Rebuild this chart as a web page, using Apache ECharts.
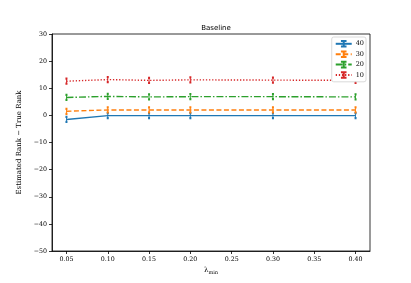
<!DOCTYPE html>
<html><head><meta charset="utf-8">
<script src="https://cdn.jsdelivr.net/npm/echarts@6/dist/echarts.min.js"></script>
<style>html,body{margin:0;padding:0;background:#fff}#c{width:411px;height:283px}</style>
</head><body><div id="c"></div>
<script>
var lambdas = [0.05, 0.10, 0.15, 0.20, 0.30, 0.40];
var xTicks = [0.05, 0.10, 0.15, 0.20, 0.25, 0.30, 0.35, 0.40];
var seriesNames = ['40', '30', '20', '10'];
var vals40 = [-1.5, -0.1, -0.1, -0.1, -0.1, -0.1];
var vals30 = [1.5, 2.0, 2.0, 2.0, 2.0, 2.0];
var vals20 = [6.6, 7.0, 6.8, 6.9, 6.9, 6.8];
var vals10 = [12.6, 13.2, 12.9, 13.1, 13.0, 12.9];
var colors = ['#1f77b4', '#ff7f0e', '#2ca02c', '#d62728'];
var lineTypes = ['solid', [5, 2.5], [7, 2, 1.5, 2], [1.3, 1.8]];
var allVals = [vals40, vals30, vals20, vals10];

var serif = 'DejaVu Serif';
var errSym = 'path://M0,0 L0,10 M-1.5,0 L1.5,0 M-1.5,10 L1.5,10';

var series = seriesNames.map(function (n, i) {
  return {
    name: n, type: 'line',
    data: lambdas.map(function (x, j) { return [x, allVals[i][j]]; }),
    symbol: errSym, symbolSize: [2, 5], showSymbol: true,
    itemStyle: { color: colors[i], borderColor: colors[i], borderWidth: 0.9 },
    lineStyle: { color: colors[i], width: 1.4, type: lineTypes[i] },
    emphasis: { disabled: true }, animation: false
  };
});

var chart = echarts.init(document.getElementById('c'));
chart.setOption({
  animation: false,
  title: { text: 'Baseline', left: 211, top: 20, textAlign: 'center',
    textStyle: { fontFamily: 'DejaVu Sans', fontSize: 7, fontWeight: 'normal', color: '#000' } },
  grid: { left: 52, right: 41, top: 34, bottom: 32, show: true, borderColor: '#000', borderWidth: 0.8, backgroundColor: 'transparent' },
  legend: {
    orient: 'vertical', right: 45, top: 37, padding: [3, 2, 3, 3], itemGap: 2.8,
    itemWidth: 16, itemHeight: 7, backgroundColor: '#fff',
    borderColor: '#d0d0d0', borderWidth: 0.8, borderRadius: 2,
    textStyle: { fontFamily: serif, fontSize: 6.5, color: '#000', padding: [0, 0, 0, -1] },
    data: seriesNames
  },
  xAxis: {
    type: 'value', min: 0.0325, max: 0.4175,
    name: '{a|λ}{b|min}', nameLocation: 'middle', nameGap: 15,
    nameTextStyle: { rich: { a: { fontFamily: serif, fontSize: 7, color: '#000' }, b: { fontFamily: serif, fontSize: 5, color: '#000', verticalAlign: 'bottom', padding: [4, 0, 0, 0] } } },
    splitLine: { show: false },
    axisLine: { show: true, onZero: false, lineStyle: { color: '#000', width: 0.8 } },
    axisTick: { show: true, length: 3, customValues: xTicks, lineStyle: { color: '#000', width: 0.8 } },
    axisLabel: { customValues: xTicks, fontFamily: serif, fontSize: 6.3, color: '#000', margin: 5,
      formatter: function (v) { return v.toFixed(2); } }
  },
  yAxis: {
    type: 'value', min: -50, max: 30, interval: 10,
    name: 'Estimated Rank − True Rank', nameLocation: 'middle', nameGap: 24, nameRotate: 90,
    nameTextStyle: { fontFamily: serif, fontSize: 7, color: '#000' },
    splitLine: { show: false },
    axisLine: { show: true, onZero: false, lineStyle: { color: '#000', width: 0.8 } },
    axisTick: { show: true, length: 3, lineStyle: { color: '#000', width: 0.8 } },
    axisLabel: { fontFamily: serif, fontSize: 6.3, color: '#000', margin: 5,
      formatter: function (v) { return v < 0 ? '−' + Math.abs(v) : String(v); } }
  },
  series: series
});
</script></body></html>
